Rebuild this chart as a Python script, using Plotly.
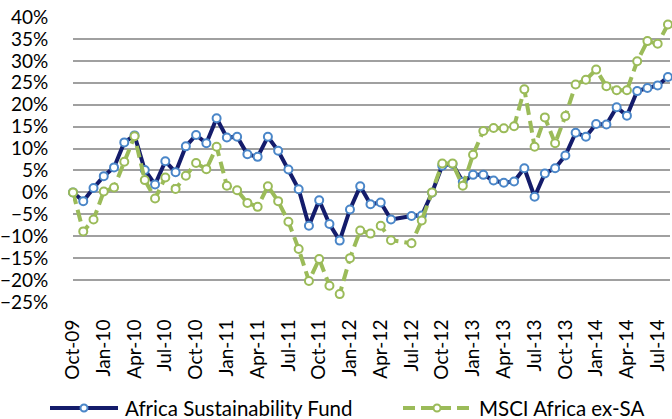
import plotly.graph_objects as go
import pandas as pd

# Monthly categories Oct-09 .. Aug-14
months = [d.strftime("%b-%y") for d in pd.date_range("2009-10-01", "2014-08-01", freq="MS")]

tick_labels = ["Oct-09", "Jan-10", "Apr-10", "Jul-10", "Oct-10", "Jan-11", "Apr-11", "Jul-11",
               "Oct-11", "Jan-12", "Apr-12", "Jul-12", "Oct-12", "Jan-13", "Apr-13", "Jul-13",
               "Oct-13", "Jan-14", "Apr-14", "Jul-14"]

series_names = ["Africa Sustainability Fund", "MSCI Africa ex-SA"]

fund = [0.0, -2.0, 1.0, 3.7, 5.7, 11.4, 13.0, 5.1, 1.8, 7.1,
        4.6, 10.5, 13.1, 11.2, 16.9, 12.5, 12.7, 8.7, 8.1, 12.7,
        9.5, 5.2, 0.7, -7.6, -1.8, -7.2, -11.0, -3.9, 1.4, -2.7,
        -2.3, -6.2, None, -5.4, -5.3, -0.1, 6.1, 6.5, 2.4, 4.0,
        4.0, 2.7, 2.2, 2.5, 5.5, -1.0, 4.3, 5.5, 8.4, 13.6,
        12.7, 15.6, 15.5, 19.4, 17.5, 23.1, 23.8, 24.4, 26.3]

msci = [0.0, -8.9, -6.2, 0.2, 1.1, 7.0, 12.8, 2.8, -1.4, 3.4,
        0.8, 3.8, 6.7, 5.3, 10.4, 1.5, 0.5, -2.4, -3.3, 1.4,
        -2.0, -6.7, -12.9, -20.2, -15.2, -21.3, -23.2, -15.0, -8.7, -9.4,
        -7.6, -10.9, None, -11.6, -6.4, 0.0, 6.6, 6.6, 1.5, 8.6,
        14.0, 14.7, 14.6, 15.1, 23.5, 10.4, 17.1, 11.2, 17.4, 24.6,
        25.7, 28.0, 24.2, 23.3, 23.3, 29.9, 34.5, 33.9, 38.3]

font_family = "Lato, 'Open Sans', sans-serif"
navy = "#141c6b"
blue_edge = "#4a86c8"
green = "#9bbb59"
green_dash = "12px,6px"

W, H = 672, 419
ML, MR, MT, MB = 73, 2, 17, 117
PW, PH = W - ML - MR, H - MT - MB


def px(fx):
    return (fx - ML) / PW


def py(fy):
    return (H - MB - fy) / PH


fig = go.Figure()
fig.add_trace(go.Scatter(
    x=months, y=fund, name=series_names[0], mode="lines+markers",
    connectgaps=True, cliponaxis=False,
    line=dict(color=navy, width=4),
    marker=dict(size=8, color="white", line=dict(color=blue_edge, width=2)),
))
fig.add_trace(go.Scatter(
    x=months, y=msci, name=series_names[1], mode="lines+markers",
    connectgaps=True, cliponaxis=False,
    line=dict(color=green, width=4, dash=green_dash),
    marker=dict(size=8, color="white", line=dict(color=green, width=2)),
))

# manual legend (Excel-style long symbols)
leg_y = 408
shapes = []
annotations = []
legend_items = [
    (series_names[0], 50, 118, 123, navy, "solid", blue_edge),
    (series_names[1], 403, 471, 477, green, green_dash, green),
]
for name, x0, x1, tx, lc, dash, mc in legend_items:
    shapes.append(dict(type="line", xref="paper", yref="paper",
                       x0=px(x0), x1=px(x1), y0=py(leg_y), y1=py(leg_y),
                       line=dict(color=lc, width=4, dash=dash)))
    shapes.append(dict(type="circle", xref="paper", yref="paper",
                       xsizemode="pixel", ysizemode="pixel",
                       xanchor=px((x0 + x1) / 2), yanchor=py(leg_y),
                       x0=-3.5, x1=3.5, y0=-3.5, y1=3.5,
                       fillcolor="white", line=dict(color=mc, width=2)))
    annotations.append(dict(text=name, xref="paper", yref="paper",
                            x=px(tx), y=py(leg_y), xanchor="left", yanchor="middle",
                            showarrow=False, font=dict(size=20.5, color="#000000")))

fig.update_layout(
    width=W, height=H,
    margin=dict(l=ML, r=MR, t=MT, b=MB, autoexpand=False),
    paper_bgcolor="white", plot_bgcolor="white",
    font=dict(family=font_family, size=19, color="#000000"),
    showlegend=False,
    shapes=shapes, annotations=annotations,
)
fig.update_xaxes(
    type="category", categoryorder="array", categoryarray=months,
    range=[0, 58.2], tickmode="array", tickvals=tick_labels, ticktext=tick_labels,
    tickangle=-90, showgrid=False, zeroline=False, showline=False, automargin=False,
    ticks="outside", ticklen=9, tickcolor="rgba(0,0,0,0)",
    tickfont=dict(size=19),
)
fig.update_yaxes(
    range=[-25, 40], dtick=5, tick0=0, ticksuffix="%", automargin=False,
    showgrid=True, gridcolor="#a0a0a0", gridwidth=1.5,
    zeroline=False, showline=False,
    ticks="outside", ticklen=20, tickcolor="rgba(0,0,0,0)",
    tickfont=dict(size=19),
)

fig.write_html("out.html", config={"displayModeBar": False},
               post_script="document.body.style.margin='0px';")
